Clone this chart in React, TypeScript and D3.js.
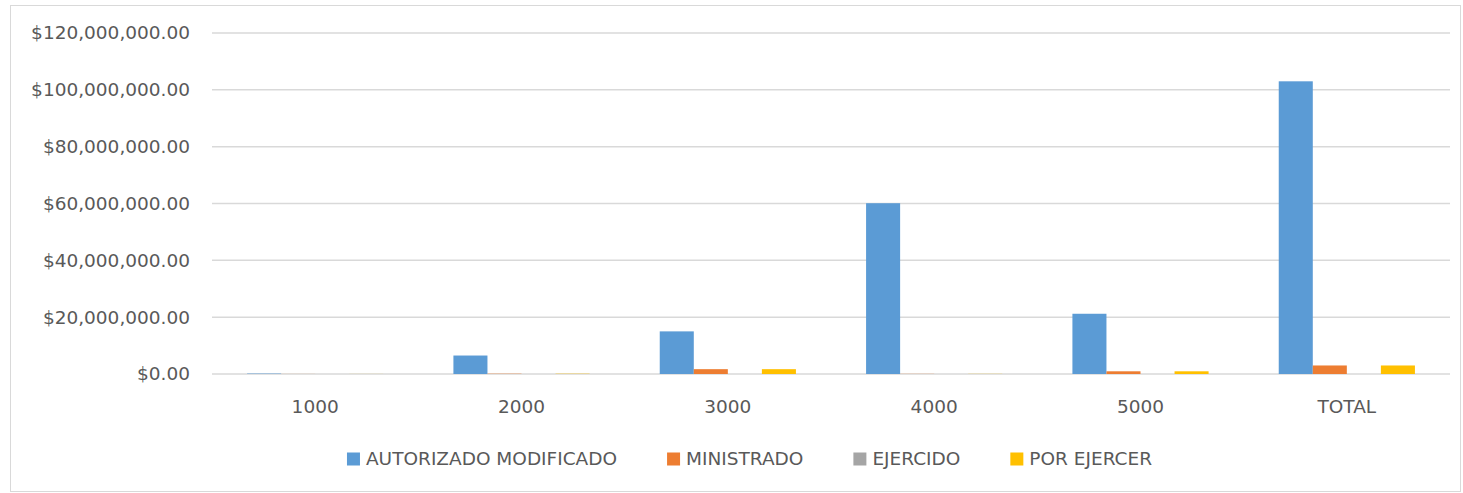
import React, { useEffect, useRef } from "react";
import * as d3 from "d3";

const categories = ["1000", "2000", "3000", "4000", "5000", "TOTAL"];
const seriesNames = ["AUTORIZADO MODIFICADO", "MINISTRADO", "EJERCIDO", "POR EJERCER"];
const autorizado = [150000, 6500000, 15000000, 60100000, 21200000, 103000000];
const ministrado = [20000, 100000, 1700000, 50000, 950000, 3000000];
const ejercido = [0, 0, 0, 0, 0, 0];
const porEjercer = [20000, 100000, 1700000, 50000, 950000, 3000000];
const yTicks = [0, 20000000, 40000000, 60000000, 80000000, 100000000, 120000000];
const colors = ["#5B9BD5", "#ED7D31", "#A5A5A5", "#FFC000"];

const W = 1463, H = 493;
const FONT = "'DejaVu Sans', sans-serif";
const FS = "18.5px";

export default function App() {
  const ref = useRef<SVGSVGElement>(null);

  useEffect(() => {
    const svg = d3.select(ref.current);
    svg.selectAll("*").remove();

    // chart border
    svg.append("rect")
      .attr("x", 10.5).attr("y", 5.5)
      .attr("width", 1450).attr("height", 486)
      .attr("fill", "#fff").attr("stroke", "#D9D9D9");

    const x0 = d3.scaleBand().domain(categories).range([212, 1450]).paddingInner(0.34).paddingOuter(0.17);
    const x1 = d3.scaleBand().domain(seriesNames).range([0, x0.bandwidth()]);
    const y = d3.scaleLinear().domain([0, 120000000]).range([374, 33]);

    const fmt = (v: number) => "$" + d3.format(",.2f")(v);

    // grid + y labels
    const yg = svg.append("g");
    yg.selectAll("line").data(yTicks).join("line")
      .attr("x1", 212).attr("x2", 1450)
      .attr("y1", d => y(d)).attr("y2", d => y(d))
      .attr("stroke", "#D9D9D9").attr("stroke-width", 1.5);
    yg.selectAll("text").data(yTicks).join("text")
      .attr("x", 190).attr("y", d => y(d))
      .attr("dy", "0.35em")
      .attr("text-anchor", "end")
      .style("font-family", FONT).style("font-size", FS)
      .attr("fill", "#595959")
      .text(d => fmt(d));

    const data = [autorizado, ministrado, ejercido, porEjercer];

    // bars
    categories.forEach((c, i) => {
      const g = svg.append("g").attr("transform", `translate(${x0(c)},0)`);
      g.selectAll("rect").data(seriesNames).join("rect")
        .attr("x", s => x1(s)!)
        .attr("width", x1.bandwidth())
        .attr("y", (s, k) => y(data[k][i]))
        .attr("height", (s, k) => y(0) - y(data[k][i]))
        .attr("fill", (s, k) => colors[k]);
    });

    // x labels
    svg.append("g").selectAll("text").data(categories).join("text")
      .attr("x", d => x0(d)! + x0.bandwidth() / 2)
      .attr("y", 407).attr("dy", "0.35em")
      .attr("text-anchor", "middle")
      .style("font-family", FONT).style("font-size", FS)
      .attr("fill", "#595959")
      .text(d => d);

    // legend
    const lg = svg.append("g");
    const items = lg.selectAll("g").data(seriesNames).join("g");
    items.append("rect").attr("width", 13).attr("height", 13).attr("y", -6.5)
      .attr("fill", (d, k) => colors[k]);
    items.append("text").attr("x", 19).attr("dy", "0.35em")
      .style("font-family", FONT).style("font-size", FS)
      .attr("fill", "#595959")
      .text(d => d);
    const gap = 50;
    let offs = 0;
    const positions: number[] = [];
    items.each(function () {
      const t = d3.select(this).select("text").node() as SVGTextElement;
      positions.push(offs);
      offs += 19 + t.getComputedTextLength() + gap;
    });
    const total = offs - gap;
    const start = 749.5 - total / 2;
    items.attr("transform", (d, k) => `translate(${start + positions[k]},459)`);
  }, []);

  return (
    <svg ref={ref} width={W} height={H}
      style={{ position: "absolute", left: 0, top: 0, background: "#fff" }} />
  );
}
